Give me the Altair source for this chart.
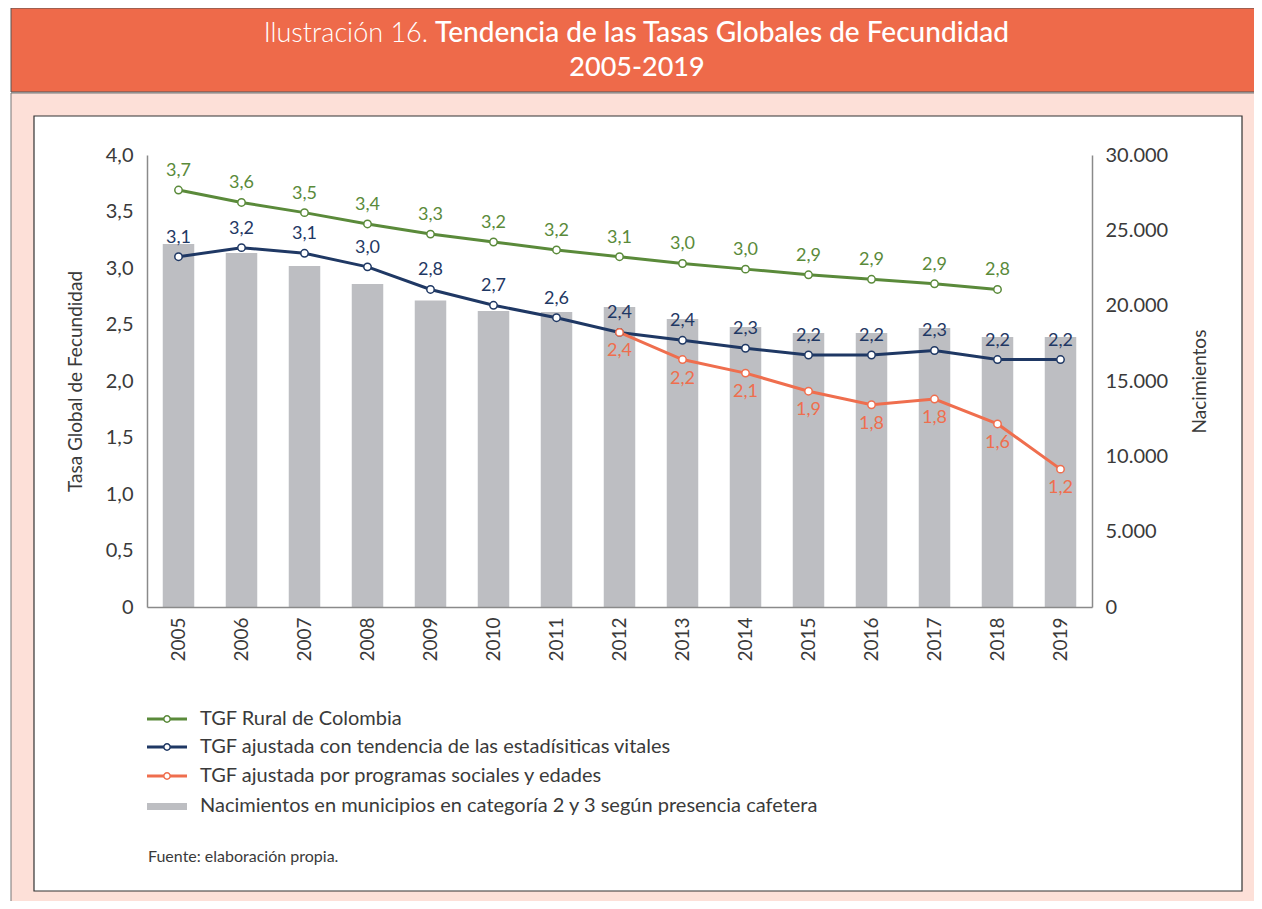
import altair as alt
import pandas as pd

years = [str(y) for y in range(2005, 2020)]
births = [24100, 23500, 22630, 21440, 20350, 19650, 19580, 19910, 19120, 18580, 18190, 18190, 18520, 17920, 17920]
tgf_rural = [3.69, 3.58, 3.49, 3.39, 3.30, 3.23, 3.16, 3.10, 3.04, 2.99, 2.94, 2.90, 2.86, 2.81, None]
tgf_vitales = [3.10, 3.18, 3.13, 3.01, 2.81, 2.67, 2.56, 2.43, 2.36, 2.29, 2.23, 2.23, 2.27, 2.19, 2.19]
tgf_programas = [None, None, None, None, None, None, None, 2.43, 2.19, 2.07, 1.91, 1.79, 1.84, 1.62, 1.22]

series_names = [
    "TGF Rural de Colombia",
    "TGF ajustada con tendencia de las estadísiticas vitales",
    "TGF ajustada por programas sociales y edades",
]
bar_name = "Nacimientos en municipios en categoría 2 y 3 según presencia cafetera"
series_colors = ["#5A8A3A", "#1F3864", "#EF6E4E"]
bar_color = "#BDBEC2"
FONT = "Lato"
TXT = "#3A3A3A"

bars_df = pd.DataFrame({"year": years, "births": births})
rows = []
for name, vals in zip(series_names, [tgf_rural, tgf_vitales, tgf_programas]):
    for y, v in zip(years, vals):
        if v is not None:
            rows.append({"year": y, "series": name, "v": v})
lines_df = pd.DataFrame(rows)

one = pd.DataFrame({"a": [0]})

x_enc = alt.X("year:N", sort=years, title=None,
              scale=alt.Scale(paddingInner=0.5, paddingOuter=0.25),
              axis=alt.Axis(labelAngle=270, labelPadding=10, labelFontSize=19,
                            labelBaseline="middle", labelAlign="right", zindex=2,
                            domainColor="#8A8A8A", domainWidth=1.5, ticks=False, grid=False))

color_enc = alt.Color("series:N", scale=alt.Scale(domain=series_names, range=series_colors), legend=None)

# decorations
header = alt.Chart(one).mark_rect(color="#EE6A4A", stroke="#555555", strokeWidth=1).encode(
    x=alt.value(-136), x2=alt.value(1120), y=alt.value(-147), y2=alt.value(-63))
pink = alt.Chart(one).mark_rect(color="#FDE0D8", stroke="#777777", strokeWidth=1).encode(
    x=alt.value(-136), x2=alt.value(1120), y=alt.value(-62), y2=alt.value(760))
white_box = alt.Chart(one).mark_rect(color="white", stroke="#333333", strokeWidth=1.2).encode(
    x=alt.value(-113), x2=alt.value(1095), y=alt.value(-39), y2=alt.value(736))
t1 = alt.Chart(one).mark_text(text="Ilustración 16.", font=FONT, fontSize=27, fontWeight=300,
                              color="white", align="right", baseline="middle").encode(
    x=alt.value(281), y=alt.value(-121))
t2 = alt.Chart(one).mark_text(text="Tendencia de las Tasas Globales de Fecundidad", font=FONT, fontSize=28,
                              fontWeight=500, color="white", align="left", baseline="middle").encode(
    x=alt.value(288), y=alt.value(-121))
t3 = alt.Chart(one).mark_text(text="2005-2019", font=FONT, fontSize=27, fontWeight=500,
                              color="white", align="center", baseline="middle").encode(
    x=alt.value(490), y=alt.value(-87))

# bars (right axis)
bars = alt.Chart(bars_df).mark_bar(color=bar_color).encode(
    x=x_enc,
    y=alt.Y("births:Q", scale=alt.Scale(domain=[0, 30000]), title="Nacimientos",
            axis=alt.Axis(orient="right", values=list(range(0, 30001, 5000)),
                          labelExpr="replace(format(datum.value, ',.0f'), ',', '.')",
                          labelPadding=13, labelFontSize=20, titleFontSize=19,
                          titleAngle=270, titlePadding=42, zindex=2,
                          domainColor="#8A8A8A", domainWidth=1.5, ticks=False, grid=False)),
)

y_enc = alt.Y("v:Q", scale=alt.Scale(domain=[0, 4]), title="Tasa Global de Fecundidad",
              axis=alt.Axis(orient="left", values=[0, 0.5, 1, 1.5, 2, 2.5, 3, 3.5, 4],
                            labelExpr="datum.value == 0 ? '0' : replace(format(datum.value, '.1f'), '.', ',')",
                            labelPadding=14, labelFontSize=20, titleFontSize=19, titlePadding=20, zindex=2,
                            domainColor="#8A8A8A", domainWidth=1.5, ticks=False, grid=False))

base = alt.Chart(lines_df).encode(x=x_enc, y=y_enc, color=color_enc)
lines = base.mark_line(strokeWidth=3).encode(order=alt.Order("year:N"))
points = base.mark_point(filled=False, fill="white", size=55, strokeWidth=1.5, opacity=1)
labels_df_expr = "replace(format(datum.v, '.1f'), '.', ',')"
lab_above = base.transform_filter(alt.datum.series != series_names[2]).transform_calculate(
    lab=labels_df_expr).mark_text(font=FONT, fontSize=18, dy=-19, baseline="middle").encode(
    text="lab:N")
lab_below = base.transform_filter(alt.datum.series == series_names[2]).transform_calculate(
    lab=labels_df_expr).mark_text(font=FONT, fontSize=18, dy=19, baseline="middle").encode(
    text="lab:N")

line_layer = alt.layer(lines, points, lab_above, lab_below)

# manual legend
legend_layers = []
leg_y = [564, 592, 621]
for name, col, yy in zip(series_names, series_colors, leg_y):
    legend_layers.append(alt.Chart(one).mark_rule(color=col, strokeWidth=3).encode(
        x=alt.value(0), x2=alt.value(40), y=alt.value(yy)))
    legend_layers.append(alt.Chart(one).mark_point(filled=False, fill="white", stroke=col, size=40,
                                                   strokeWidth=1.5, opacity=1).encode(
        x=alt.value(20), y=alt.value(yy)))
    legend_layers.append(alt.Chart(one).mark_text(text=name, font=FONT, fontSize=20, color=TXT,
                                                  align="left", baseline="middle").encode(
        x=alt.value(53), y=alt.value(yy)))
legend_layers.append(alt.Chart(one).mark_rect(color=bar_color).encode(
    x=alt.value(0), x2=alt.value(40), y=alt.value(648), y2=alt.value(655)))
legend_layers.append(alt.Chart(one).mark_text(text=bar_name, font=FONT, fontSize=20, color=TXT,
                                              align="left", baseline="middle").encode(
    x=alt.value(53), y=alt.value(651)))
legend_layers.append(alt.Chart(one).mark_text(text="Fuente: elaboración propia.", font=FONT, fontSize=16,
                                              color=TXT, align="left", baseline="middle").encode(
    x=alt.value(1), y=alt.value(702)))

chart = alt.layer(
    header, pink, white_box, t1, t2, t3,
    bars, line_layer,
    *legend_layers,
).resolve_scale(y="independent").properties(
    width=945, height=452,
    autosize=alt.AutoSizeParams(type="none"),
    padding={"left": 139, "top": 147, "right": 162, "bottom": 294},
    background="white",
).configure_view(stroke=None).configure_axis(
    labelFont=FONT, titleFont=FONT, labelColor=TXT, titleColor=TXT,
    titleFontWeight="normal",
)

chart.save("out.html", embed_options={"renderer": "svg", "actions": False})
